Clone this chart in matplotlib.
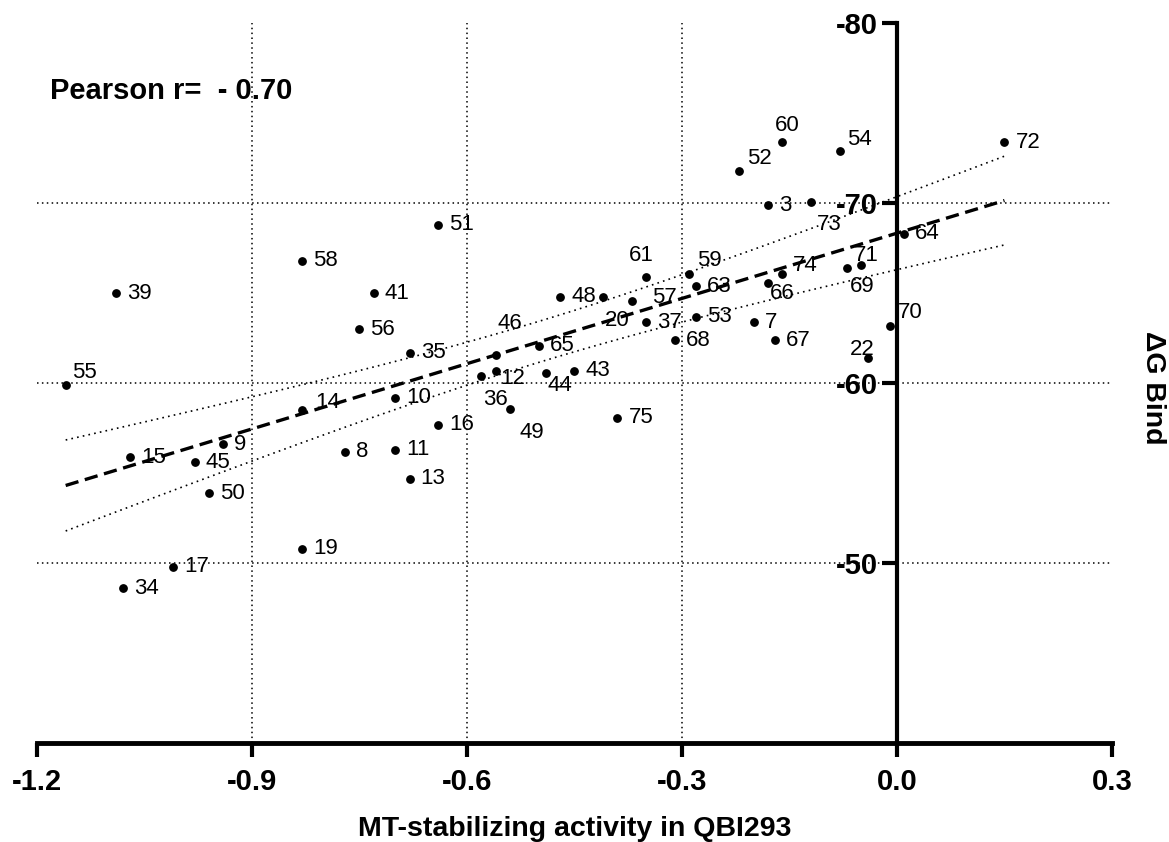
import matplotlib
matplotlib.use("Agg")
import matplotlib.pyplot as plt
import numpy as np

# compound ids, activity (x) and binding energy (y)
ids = [60, 54, 72, 52, 3, 73, 64, 51, 61, 59, 48, 20, 57, 63, 74, 66, 71, 69,
       70, 22, 37, 53, 7, 68, 67, 65, 46, 12, 36, 44, 43, 49, 75, 16, 10, 14,
       35, 56, 41, 58, 39, 55, 15, 9, 45, 50, 8, 11, 13, 19, 17, 34]
activity = [-0.16, -0.08, 0.15, -0.22, -0.18, -0.12, 0.01, -0.64, -0.35, -0.29,
            -0.47, -0.41, -0.37, -0.28, -0.16, -0.18, -0.05, -0.07, -0.01, -0.04,
            -0.35, -0.28, -0.20, -0.31, -0.17, -0.50, -0.56, -0.56, -0.58, -0.49,
            -0.45, -0.54, -0.39, -0.64, -0.70, -0.83, -0.68, -0.75, -0.73, -0.83,
            -1.09, -1.16, -1.07, -0.94, -0.98, -0.96, -0.77, -0.70, -0.68, -0.83,
            -1.01, -1.08]
dg_bind = [-73.4, -72.9, -73.4, -71.8, -69.9, -70.1, -68.3, -68.8, -65.9, -66.1,
           -64.8, -64.8, -64.6, -65.4, -66.1, -65.6, -66.6, -66.4, -63.2, -61.4,
           -63.4, -63.7, -63.4, -62.4, -62.4, -62.1, -61.6, -60.7, -60.4, -60.6,
           -60.7, -58.6, -58.1, -57.7, -59.2, -58.5, -61.7, -63.0, -65.0, -66.8,
           -65.0, -59.9, -55.9, -56.6, -55.6, -53.9, -56.2, -56.3, -54.7, -50.8,
           -49.8, -48.6]

x_ticks = [-1.2, -0.9, -0.6, -0.3, 0.0, 0.3]
x_ticklabels = ["-1.2", "-0.9", "-0.6", "-0.3", "0.0", "0.3"]
y_ticks = [-80, -70, -60, -50]
x_grid = [-0.9, -0.6, -0.3]
y_grid = [-70, -60, -50]

# label offsets in pixels (dx, dy); default is to the right of the dot
label_offsets = {60: (-7, 17), 54: (7, 12), 52: (8, 12), 73: (6, -23),
                 71: (-7, 9), 69: (3, -18), 74: (11, 8), 66: (2, -11),
                 59: (8, 13), 70: (8, 13), 22: (-18, 9), 55: (6, 13),
                 57: (20, 3), 20: (2, -24), 46: (2, 31), 12: (5, -8),
                 36: (2, -23), 44: (2, -13), 49: (10, -24), 14: (13, 8),
                 61: (-17, 22)}

plt.rcParams["font.family"] = ["Liberation Sans", "DejaVu Sans"]

fig = plt.figure(figsize=(11.69, 8.42), dpi=100)
ax = fig.add_axes([37 / 1169, 1 - 743.3 / 842, 1075 / 1169, 720 / 842])

ax.set_xlim(-1.2, 0.3)
ax.set_ylim(-40, -80)

for gx in x_grid:
    ax.axvline(gx, color="black", lw=1.1, ls=(0, (1, 2.2)), zorder=1)
for gy in y_grid:
    ax.axhline(gy, color="black", lw=1.1, ls=(0, (1, 2.2)), zorder=1)

x = np.array(activity)
y = np.array(dg_bind)
ax.scatter(x, y, s=28, color="black", zorder=4, clip_on=False)

for i, xv, yv in zip(ids, activity, dg_bind):
    dx, dy = label_offsets.get(i, (11, 0))
    ax.annotate(str(i), (xv, yv), xytext=(dx * 0.72, dy * 0.72),
                textcoords="offset points", ha="left", va="center",
                fontsize=16, zorder=5)

# linear fit with 95% confidence band
n = len(x)
slope, intercept = np.polyfit(x, y, 1)
xs = np.linspace(x.min(), x.max(), 100)
yfit = intercept + slope * xs
resid = y - (intercept + slope * x)
s = np.sqrt(np.sum(resid ** 2) / (n - 2))
sxx = np.sum((x - x.mean()) ** 2)
band = 2.01 * s * np.sqrt(1 / n + (xs - x.mean()) ** 2 / sxx)
ax.plot(xs, yfit, color="black", lw=2.4, ls=(0, (4, 2)), zorder=3)
ax.plot(xs, yfit + band, color="black", lw=1.2, ls=(0, (1, 2.5)), zorder=3)
ax.plot(xs, yfit - band, color="black", lw=1.2, ls=(0, (1, 2.5)), zorder=3)

ax.spines["top"].set_visible(False)
ax.spines["right"].set_visible(False)
ax.spines["left"].set_position(("data", 0))
ax.spines["left"].set_linewidth(3)
ax.spines["bottom"].set_linewidth(3.5)

ax.set_xticks(x_ticks)
ax.set_xticklabels(x_ticklabels, fontsize=21, fontweight="bold")
ax.set_yticks(y_ticks)
ax.set_yticklabels([str(v) for v in y_ticks], fontsize=21, fontweight="bold")
ax.tick_params(axis="x", direction="out", length=10, width=3, pad=8)
ax.tick_params(axis="y", direction="out", length=11, width=3, pad=3)

ax.set_xlabel("MT-stabilizing activity in QBI293", fontsize=20.5,
              fontweight="bold", labelpad=14)
fig.text(1153 / 1169, 1 - 388 / 842, "ΔG Bind", fontsize=20.5,
         fontweight="bold", rotation=-90, ha="center", va="center")

ax.text(0.012, 0.906, "Pearson r=  - 0.70", transform=ax.transAxes,
        fontsize=21, fontweight="bold", ha="left", va="center")

fig.savefig("out.png", dpi=100)
